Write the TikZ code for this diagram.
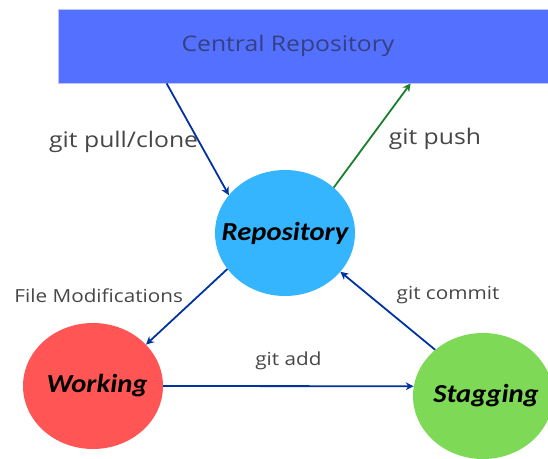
\documentclass[tikz,border=0pt]{standalone}
\usepackage{fontspec}
\usetikzlibrary{arrows.meta,shapes.geometric}
\newfontfamily\edgefont[FakeStretch=1.15]{Open Sans}
\newfontfamily\stagefont[FakeStretch=1.1]{Carlito}
\definecolor{centralblue}{RGB}{84,112,255}
\definecolor{centraltext}{RGB}{52,64,130}
\definecolor{repoblue}{RGB}{54,181,255}
\definecolor{workred}{RGB}{255,85,85}
\definecolor{stagegreen}{RGB}{126,217,87}
\definecolor{flowblue}{RGB}{0,51,160}
\definecolor{pushgreen}{RGB}{26,127,42}
\definecolor{labelgray}{RGB}{70,70,70}
\newcommand{\stagename}[1]{\makebox[0pt][c]{#1}}
\tikzset{
  stage/.style={ellipse, minimum width=140pt, minimum height=126pt, inner sep=0pt,
    font=\stagefont\bfseries\itshape\fontsize{26}{28}\selectfont},
  centralbox/.style={rectangle, fill=centralblue, draw=centralblue!40, line width=0.8pt,
    minimum height=74pt, inner sep=0pt},
  flow/.style={draw=flowblue, line width=1.8pt, -{Stealth[length=8pt,width=8pt]}},
  gitcmd/.style={text=labelgray, inner sep=0pt, font=\edgefont\fontsize{18}{20}\selectfont},
  bigcmd/.style={gitcmd, font=\edgefont\fontsize{21.5}{24}\selectfont}
}
\begin{document}
\begin{tikzpicture}[x=1pt,y=1pt]
\useasboundingbox (0,0) rectangle (548,458);
\clip (0,0) rectangle (548,458);

\node[centralbox, minimum width=500pt,
  label={[xshift=-20pt, text=centraltext, font=\edgefont\fontsize{21.5}{24}\selectfont]center:Central Repository}]
  (central) at (308,412) {};

\node[stage, fill=repoblue] (repo) at (285,225) {\stagename{Repository}};
\node[stage, fill=workred] (work) at (93,72) {\stagename{\hspace*{8pt}Working}};
\node[stage, fill=stagegreen] (stagging) at (483,62) {\stagename{\hspace*{6pt}Stagging}};

\draw[flow] ([xshift=109pt]central.south west) -- node[bigcmd, left, pos=0.52] {git pull/clone} (repo.146);
\draw[flow, draw=pushgreen] (repo.43) -- node[bigcmd, right, pos=0.47, xshift=18pt] {git push} ([xshift=353pt]central.south west);

\draw[flow] (repo.212) -- node[gitcmd, left, pos=0.35, xshift=-15pt] {File Modifications} (work.38);
\draw[flow] (stagging.136) -- node[gitcmd, right, pos=0.7, xshift=27pt] {git commit} (repo.325);
\draw[flow] (work.east) -- node[gitcmd, above, yshift=15pt] {git add} (stagging.172);

\end{tikzpicture}
\end{document}
